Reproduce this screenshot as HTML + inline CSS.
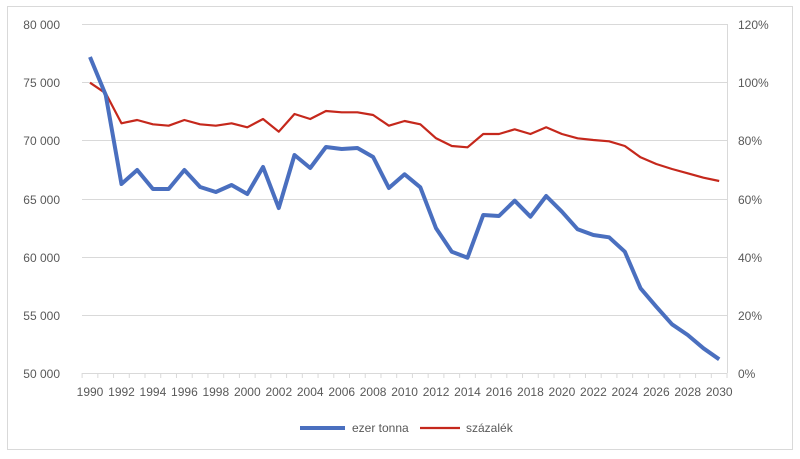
<!DOCTYPE html>
<html><head><meta charset="utf-8"><style>
body{margin:0;background:#fff;}
svg text{font-family:"Liberation Sans",sans-serif;fill:#595959;}
</style></head><body>
<svg width="800" height="454" xmlns="http://www.w3.org/2000/svg">
<rect x="7.5" y="6.5" width="785" height="443" fill="#fff" stroke="#d9d9d9"/>
<g stroke="#d9d9d9" stroke-width="1">
<line x1="82" x2="727" y1="24.5" y2="24.5"/>
<line x1="82" x2="727" y1="82.5" y2="82.5"/>
<line x1="82" x2="727" y1="140.5" y2="140.5"/>
<line x1="82" x2="727" y1="199.5" y2="199.5"/>
<line x1="82" x2="727" y1="257.5" y2="257.5"/>
<line x1="82" x2="727" y1="315.5" y2="315.5"/>
<line x1="82" x2="727" y1="373.5" y2="373.5"/>
<line x1="727.5" x2="727.5" y1="24" y2="373"/>
</g>
<g stroke="#d9d9d9" id="ticks"></g>
<g font-size="12" text-anchor="end">
<text x="60" y="29">80 000</text>
<text x="60" y="87">75 000</text>
<text x="60" y="145">70 000</text>
<text x="60" y="204">65 000</text>
<text x="60" y="262">60 000</text>
<text x="60" y="320">55 000</text>
<text x="60" y="378">50 000</text>
</g>
<g font-size="12" text-anchor="start">
<text x="738" y="29">120%</text>
<text x="738" y="87">100%</text>
<text x="738" y="145">80%</text>
<text x="738" y="204">60%</text>
<text x="738" y="262">40%</text>
<text x="738" y="320">20%</text>
<text x="738" y="378">0%</text>
</g>
<g font-size="12" text-anchor="middle">
<text x="90" y="396">1990</text><text x="121.5" y="396">1992</text><text x="152.9" y="396">1994</text><text x="184.4" y="396">1996</text><text x="215.8" y="396">1998</text><text x="247.3" y="396">2000</text><text x="278.8" y="396">2002</text><text x="310.2" y="396">2004</text><text x="341.7" y="396">2006</text><text x="373.1" y="396">2008</text><text x="404.6" y="396">2010</text><text x="436.1" y="396">2012</text><text x="467.5" y="396">2014</text><text x="499" y="396">2016</text><text x="530.4" y="396">2018</text><text x="561.9" y="396">2020</text><text x="593.4" y="396">2022</text><text x="624.8" y="396">2024</text><text x="656.3" y="396">2026</text><text x="687.7" y="396">2028</text><text x="719.2" y="396">2030</text>
</g>
<polyline fill="none" stroke="#c5281c" stroke-width="2.2" stroke-linejoin="round" points="90,82.7 105.73,93.3 121.46,123.3 137.19,120 152.92,124.3 168.65,125.7 184.38,120 200.11,124.3 215.84,125.7 231.57,123.3 247.3,127.3 263.03,119 278.76,131.7 294.49,114 310.22,119 325.95,111 341.68,112.3 357.41,112.3 373.14,115 388.87,125.7 404.6,121 420.33,124.3 436.06,138.3 451.79,146 467.52,147.3 483.25,134 498.98,134 514.71,129.3 530.44,134 546.17,127.3 561.9,134 577.63,138.3 593.36,140 609.09,141.3 624.82,146 640.55,157.3 656.28,164 672.01,169 687.74,173.3 703.47,177.7 719.2,181"/>
<polyline fill="none" stroke="#4a6fbf" stroke-width="4" stroke-linejoin="round" points="90,57 105.73,95 121.46,184 137.19,170 152.92,189 168.65,189 184.38,170 200.11,187 215.84,192 231.57,185 247.3,194 263.03,167 278.76,208 294.49,155 310.22,168 325.95,147 341.68,149 357.41,148 373.14,157 388.87,188 404.6,174.3 420.33,187.3 436.06,228.3 451.79,251.7 467.52,257.7 483.25,215 498.98,216 514.71,200.7 530.44,216.7 546.17,196 561.9,211.7 577.63,229.3 593.36,235 609.09,237.3 624.82,251.7 640.55,288.3 656.28,306.7 672.01,324.3 687.74,335 703.47,348.3 719.2,359.3"/>
<line x1="300" x2="345" y1="428" y2="428" stroke="#4a6fbf" stroke-width="4"/>
<text x="352" y="432" font-size="12">ezer tonna</text>
<line x1="420" x2="460" y1="428" y2="428" stroke="#c5281c" stroke-width="2.2"/>
<text x="466" y="432" font-size="12">százalék</text>
</svg>
<script>
var g=document.getElementById('ticks');var s='';
for(var k=0;k<=41;k++){var x=82.1+k*15.73;s+='<line x1="'+x+'" x2="'+x+'" y1="373" y2="378"/>';}
g.innerHTML=s;
</script>
</body></html>
